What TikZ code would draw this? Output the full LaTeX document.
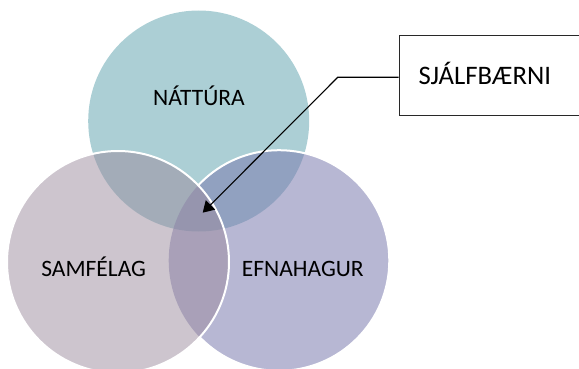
\documentclass[tikz,border=0pt]{standalone}
\usepackage{fontspec}
\setmainfont{Carlito}
\usetikzlibrary{arrows.meta}
\definecolor{natcol}{RGB}{172,207,213}
\definecolor{efncol}{RGB}{124,124,175}
\definecolor{samcol}{RGB}{155,139,157}
\definecolor{boxline}{RGB}{40,40,40}
\tikzset{
  lbl/.style={anchor=base, inner sep=0pt, font=\fontsize{23.5}{28}\selectfont},
  calloutlbl/.style={anchor=base west, inner sep=0pt, font=\fontsize{26.7}{31}\selectfont},
  ring/.style={draw=white, line width=2pt},
  calloutbox/.style={draw=boxline, line width=1.3pt, rectangle, inner sep=0pt, anchor=north west, minimum width=240pt, minimum height=80pt},
  connector/.style={draw=black, line width=1.1pt, -{Triangle[length=11pt,width=13pt]}}
}
\begin{document}
\begin{tikzpicture}[x=1pt,y=-1pt]
\useasboundingbox (0,0) rectangle (579,369);
% circles
\coordinate (cn) at (198.7,121);
\coordinate (ce) at (279,260.5);
\coordinate (cs) at (118,262);
\fill[natcol] (cn) circle (110.5);
\fill[efncol, fill opacity=0.55] (ce) circle (110.3);
\fill[samcol, fill opacity=0.5] (cs) circle (111);
% white outlines
\begin{scope}[even odd rule]
  \clip (-20,-20) rectangle (620,420) (cs) circle (111);
  \draw[ring] (ce) circle (110.3);
\end{scope}
\draw[ring] (cs) circle (111);
% labels
\node[lbl] (nat) at (199,106) {NÁTTÚRA};
\node[lbl] (sam) at (93.7,276) {SAMFÉLAG};
\node[lbl] (efn) at (302.8,276) {EFNAHAGUR};
% callout
\node[calloutbox] (box) at (398.5,35) {};
\node[calloutlbl] (sj) at (418.3,84.5) {SJÁLFBÆRNI};
\coordinate (bend) at (337.7,77.3);
\coordinate (tip) at (202.7,212.7);
\draw[connector] (bend -| box.west) -- (bend) -- (tip);
\end{tikzpicture}
\end{document}
